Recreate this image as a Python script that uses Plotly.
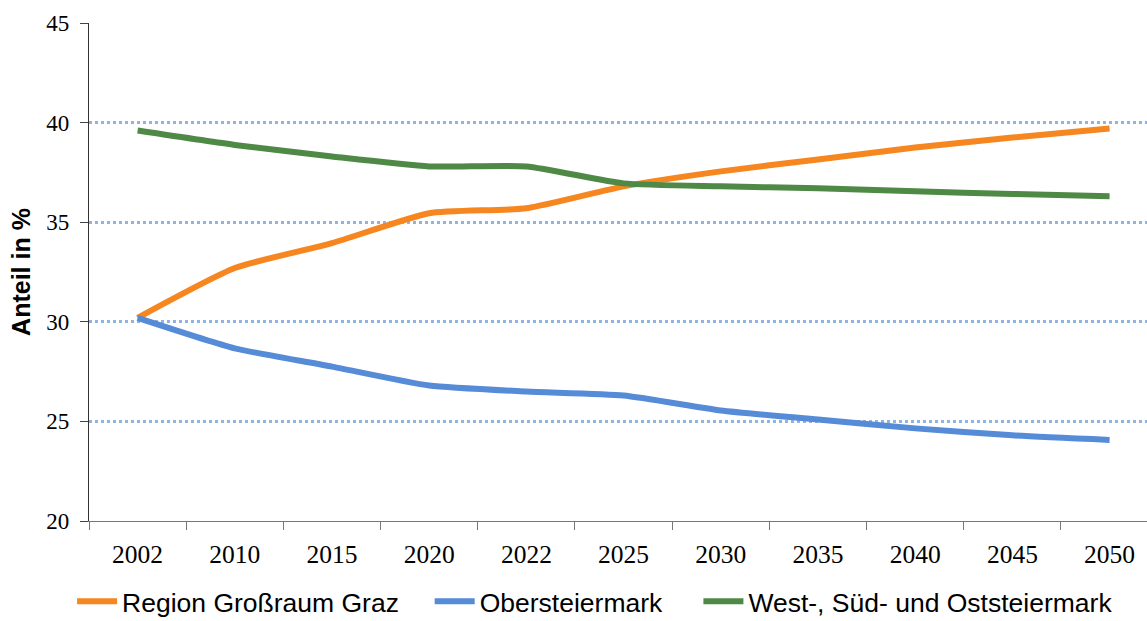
import plotly.graph_objects as go

years = ["2002", "2010", "2015", "2020", "2022", "2025", "2030", "2035", "2040", "2045", "2050"]
graz = [30.2, 32.7, 33.95, 35.45, 35.7, 36.8, 37.55, 38.15, 38.75, 39.25, 39.7]
ober = [30.2, 28.67, 27.75, 26.8, 26.5, 26.3, 25.55, 25.1, 24.65, 24.3, 24.07]
west = [39.6, 38.88, 38.3, 37.8, 37.8, 36.95, 36.8, 36.7, 36.55, 36.42, 36.3]

names = ["Region Großraum Graz", "Obersteiermark", "West-, Süd- und Oststeiermark"]
colors = ["#F6861F", "#558BD7", "#4E8A45"]
legend_ids = ["legend", "legend2", "legend3"]
legend_x = [-0.016, 0.322, 0.576]

fig = go.Figure()
for name, vals, col, lid in zip(names, [graz, ober, west], colors, legend_ids):
    fig.add_trace(go.Scatter(
        x=years, y=vals, name=name, mode="lines", legend=lid,
        line=dict(color=col, width=6, shape="spline", smoothing=0.55),
    ))

leg_font = dict(family="Liberation Sans, Arial", size=26.5, color="#000")
leg_common = dict(orientation="h", xanchor="left", y=-0.21, yanchor="bottom",
                  font=leg_font, itemwidth=40, bgcolor="rgba(0,0,0,0)")

fig.update_layout(
    width=1147, height=621,
    margin=dict(l=89, r=0, t=23, b=100, autoexpand=False),
    paper_bgcolor="white", plot_bgcolor="white",
    showlegend=True,
    legend=dict(x=legend_x[0], **leg_common),
    legend2=dict(x=legend_x[1], **leg_common),
    legend3=dict(x=legend_x[2], **leg_common),
    font=dict(family="Liberation Serif, Times New Roman", color="#000"),
)

fig.update_xaxes(
    type="category", range=[-0.5, 10.385],
    tickson="boundaries", ticks="outside", ticklen=8, tickcolor="#777", tickwidth=1,
    showline=True, linecolor="#777", linewidth=1.3,
    showgrid=False, zeroline=False,
    tickfont=dict(family="Liberation Serif, Times New Roman", size=25.5, color="#000"),
    ticklabelstandoff=10,
)

fig.update_yaxes(
    range=[20, 45], tickvals=[20, 25, 30, 35, 40, 45],
    ticks="outside", ticklen=8, tickcolor="#444", tickwidth=1,
    showline=True, linecolor="#333", linewidth=1.3,
    showgrid=True, gridcolor="#8EB4E3", gridwidth=2.5, griddash="dot",
    zeroline=False,
    tickfont=dict(family="Liberation Serif, Times New Roman", size=23, color="#000"),
    ticklabelstandoff=6,
    title=dict(text="<b>Anteil in %</b>", standoff=8,
               font=dict(family="Liberation Sans, Arial", size=25, color="#000")),
)

fig.write_html("out.html")
